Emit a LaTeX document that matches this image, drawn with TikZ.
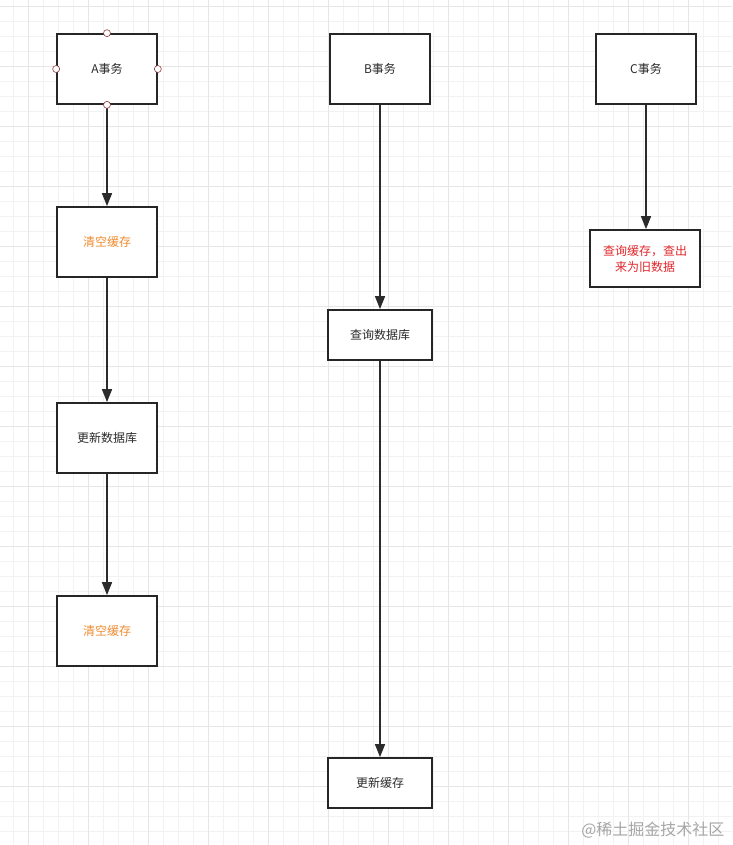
\documentclass[tikz,border=0pt]{standalone}
\usepackage{fontspec}
\usepackage{tikz}
\usetikzlibrary{arrows.meta}
\newfontfamily\cjk{Noto Sans CJK SC}
\definecolor{gridminor}{HTML}{F2F2F2}
\definecolor{gridmajor}{HTML}{E6E6E6}
\definecolor{boxline}{HTML}{262626}
\definecolor{txtdark}{HTML}{2B2B2B}
\definecolor{txtorange}{HTML}{F08A2E}
\definecolor{txtred}{HTML}{E0262B}
\definecolor{handlered}{HTML}{8C3A3A}
\tikzset{
	stepnode/.style={draw=boxline, line width=1.7pt, fill=white, minimum width=100pt, minimum height=70pt,
		font=\cjk\fontsize{12}{16}\selectfont, text=txtdark, align=center, inner sep=0pt},
	flow/.style={draw=txtdark, line width=1.4pt, -{Triangle[length=13pt, width=10pt]}},
	handle/.style={draw=handlered, fill=white, line width=0.6pt},
}
\begin{document}
\begin{tikzpicture}[x=1pt, y=-1pt]
	\useasboundingbox (0,0) rectangle (732,845);
	\fill[white] (0,0) rectangle (732,845);

	% grid
	\foreach \gx in {13.3,28.3,...,732} \draw[gridminor, line width=0.8pt] (\gx,0) -- (\gx,845);
	\foreach \gy in {6.7,21.7,...,845} \draw[gridminor, line width=0.8pt] (0,\gy) -- (732,\gy);
	\foreach \gx in {28.3,88.3,...,732} \draw[gridmajor, line width=0.8pt] (\gx,0) -- (\gx,845);
	\foreach \gy in {6.7,66.7,...,845} \draw[gridmajor, line width=0.8pt] (0,\gy) -- (732,\gy);

	% A
	\node[stepnode] (ta) at (107,69) {A事务};
	\node[stepnode, text=txtorange] (a1) at (107,242) {清空缓存};
	\node[stepnode] (a2) at (107,438) {更新数据库};
	\node[stepnode, text=txtorange] (a3) at (107,631) {清空缓存};

	% B
	\node[stepnode] (tb) at (380,69) {B事务};
	\node[stepnode, minimum width=104pt, minimum height=50pt] (b1) at (380,335) {查询数据库};
	\node[stepnode, minimum width=104pt, minimum height=50pt] (b2) at (380,783) {更新缓存};

	% C
	\node[stepnode] (tc) at (646,69) {C事务};
	\node[stepnode, minimum width=110pt, minimum height=57pt, text=txtred] (c1) at (645,258.5) {查询缓存，查出\\来为旧数据};

	\draw[flow] (ta) -- (a1);
	\draw[flow] (a1) -- (a2);
	\draw[flow] (a2) -- (a3);
	\draw[flow] (tb) -- (b1);
	\draw[flow] (b1) -- (b2);
	\draw[flow] (tc.south) -- (tc.south |- c1.north);

	% selection handles
	\draw[handle] (ta.north) circle (3.5);
	\draw[handle] (ta.south) circle (3.5);
	\draw[handle] (ta.west) circle (3.5);
	\draw[handle] (ta.east) circle (3.5);

	% watermark
	\node[font=\cjk\fontsize{16}{18}\selectfont, text=black!35, anchor=east] (wm) at (728,830) {@稀土掘金技术社区};
\end{tikzpicture}
\end{document}
